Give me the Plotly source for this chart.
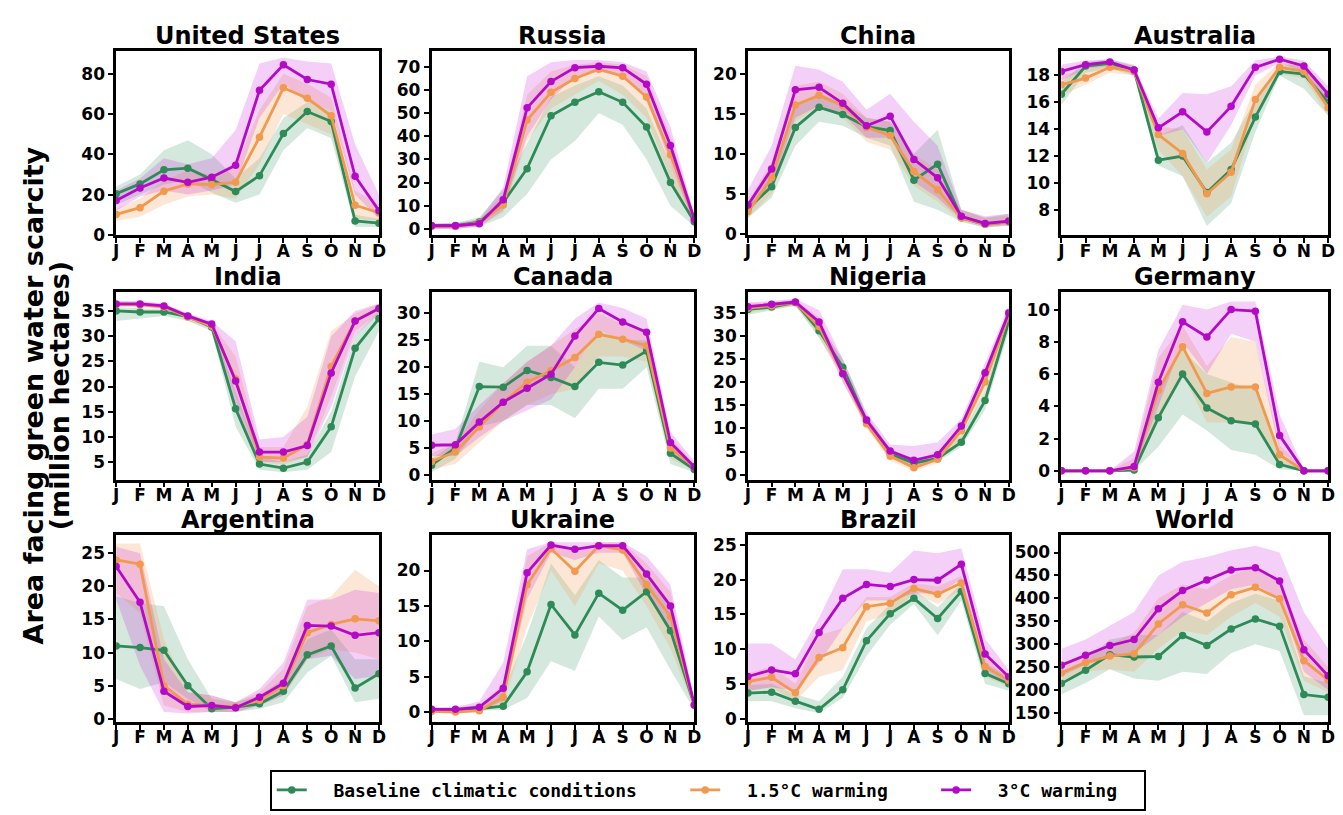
import plotly.graph_objects as go

MONTHS = ["J", "F", "M", "A", "M", "J", "J", "A", "S", "O", "N", "D"]
SERIES_NAMES = ["Baseline climatic conditions", "1.5°C warming", "3°C warming"]

# ---------------- United States ----------------
us_base = [20.4, 25.3, 32.3, 33.1, 27.5, 21.5, 29.4, 50.3, 61.2, 56.3, 6.9, 5.8]
us_base_lo = [15, 20, 25, 27, 21, 16, 20, 42, 53, 48, 4, 4]
us_base_hi = [24, 30, 42, 47, 40, 28, 38, 58, 66, 62, 10, 8]
us_w15 = [10.1, 13.5, 21.7, 25.3, 25.0, 26.1, 48.5, 73.0, 67.8, 59.1, 14.7, 11]
us_w15_lo = [7, 9, 15, 19, 20, 18, 35, 60, 55, 50, 8, 7]
us_w15_hi = [13, 18, 27, 32, 30, 34, 62, 80, 75, 68, 22, 15]
us_w3 = [17.1, 23.3, 28.2, 26.1, 28.6, 34.6, 71.8, 84.4, 77.1, 74.8, 29.1, 12]
us_w3_lo = [12, 19, 22, 20, 22, 25, 58, 75, 66, 62, 20, 8]
us_w3_hi = [22, 28, 38, 35, 38, 52, 85, 88, 86, 85, 45, 20]

# ---------------- Russia ----------------
ru_base = [1.4, 1.4, 2.9, 11.4, 26.0, 48.9, 54.7, 59.3, 54.7, 44, 20, 3]
ru_base_lo = [0, 0, 1, 5, 15, 30, 38, 50, 45, 30, 10, 1]
ru_base_hi = [2, 2.5, 5, 17, 37, 57, 62, 66, 62, 52, 28, 5]
ru_w15 = [1, 1, 2.5, 10.3, 47, 59, 65, 69, 66, 57, 32, 4]
ru_w15_lo = [0, 0, 1, 7, 38, 52, 58, 64, 58, 48, 22, 2]
ru_w15_hi = [2, 2, 4, 15, 58, 68, 71, 72, 71, 66, 40, 6]
ru_w3 = [1.3, 1.3, 2.2, 12.5, 52.3, 63.7, 69.7, 70.3, 69.6, 62.5, 36, 4]
ru_w3_lo = [0, 0, 1, 8, 40, 56, 66, 68, 66, 56, 28, 2]
ru_w3_hi = [2.5, 2.5, 4, 18, 66, 72, 73, 73, 72, 68, 44, 6]

# ---------------- China ----------------
cn_base = [3.2, 5.9, 13.3, 15.8, 14.9, 13.4, 12.9, 6.7, 8.7, 2.0, 1.2, 1.5]
cn_base_lo = [2, 4.5, 11, 14, 13.5, 12, 11, 4, 3, 1.5, 0.8, 1]
cn_base_hi = [4, 8, 16, 17.5, 16.5, 14.5, 14, 10, 13, 3, 2, 2.5]
cn_w15 = [2.8, 7, 16.1, 17.3, 16, 13.3, 12.3, 7.8, 5.5, 2, 1.2, 1.5]
cn_w15_lo = [2, 5, 14, 16, 14.5, 11.5, 10.5, 6, 4, 1.5, 0.8, 1]
cn_w15_hi = [4, 9, 18.5, 19, 17.5, 14.5, 14, 10, 8, 3, 2, 2.3]
cn_w3 = [3.6, 8.1, 18, 18.3, 16.3, 13.5, 14.7, 9.3, 7, 2.2, 1.3, 1.6]
cn_w3_lo = [2.5, 6, 14.5, 16, 15, 12, 12, 6.5, 4.5, 1.8, 0.9, 1.1]
cn_w3_hi = [5.5, 11, 21, 20.5, 19, 15.5, 17.5, 14, 11, 3, 2.2, 2.5]

# ---------------- Australia ----------------
au_base = [16.6, 18.7, 18.9, 18.4, 11.7, 12.0, 9.3, 11.0, 14.9, 18.3, 18.1, 16.0]
au_base_lo = [15.8, 18.2, 18.5, 18.0, 11.3, 10.5, 6.8, 8.5, 13.8, 18.0, 17.0, 15.0]
au_base_hi = [17.5, 19.0, 19.2, 18.8, 13.5, 14.3, 11.5, 13.0, 16.2, 18.8, 18.8, 16.8]
au_w15 = [17.3, 17.8, 18.6, 18.3, 13.6, 12.2, 9.2, 10.8, 16.2, 18.6, 18.3, 15.6]
au_w15_lo = [16.5, 17.3, 18.2, 18.0, 12.5, 10.5, 7.5, 9.0, 15.0, 18.1, 17.8, 15.0]
au_w15_hi = [18.0, 18.5, 19.0, 18.7, 14.2, 14.0, 11.0, 12.5, 17.3, 19.0, 18.8, 16.3]
au_w3 = [18.3, 18.8, 19.0, 18.4, 14.1, 15.3, 13.8, 15.7, 18.6, 19.2, 18.7, 16.6]
au_w3_lo = [17.6, 18.5, 18.7, 18.1, 13.5, 14.0, 11.5, 14.3, 18.0, 18.9, 18.3, 15.8]
au_w3_hi = [18.8, 19.1, 19.2, 18.7, 14.8, 16.7, 16.6, 17.2, 19.1, 19.4, 19.1, 17.2]

# ---------------- India ----------------
in_base = [35.0, 34.8, 34.8, 33.9, 31.8, 15.6, 4.6, 3.8, 5.0, 12.0, 27.6, 33.5]
in_base_lo = [33, 33.5, 34, 33, 31, 12, 3.5, 3, 3.5, 7, 22, 31]
in_base_hi = [35.8, 35.5, 35.3, 34.5, 32.5, 19, 6, 5, 6.5, 15, 30, 35]
in_w15 = [36.3, 36.2, 35.8, 33.8, 32.0, 21.5, 6.0, 5.8, 8.5, 24, 33, 35.5]
in_w15_lo = [35.8, 35.8, 35.3, 33, 31.5, 18, 5, 4.5, 6, 18, 31, 34.5]
in_w15_hi = [37, 36.8, 36.3, 34.5, 32.5, 26, 8, 8, 16, 31, 34.5, 36.5]
in_w3 = [36.4, 36.4, 36.0, 34.0, 32.4, 21.1, 7.0, 7.0, 8.3, 22.7, 33.0, 35.5]
in_w3_lo = [36, 36, 35.5, 33.5, 31.5, 16, 5, 5, 6, 16, 30, 34.5]
in_w3_hi = [37, 37, 36.5, 34.5, 33, 29, 9.5, 10, 14, 30, 35, 36.5]

# ---------------- Canada ----------------
ca_base = [1.8, 5.0, 16.4, 16.3, 19.4, 18.1, 16.4, 20.9, 20.4, 23, 4, 1]
ca_base_lo = [0.5, 3, 9, 10, 13, 13, 10.5, 16, 16, 20, 2, 0.5]
ca_base_hi = [3, 6, 21, 20, 24, 24, 20, 27, 25, 25, 5, 1.5]
ca_w15 = [2.5, 4.3, 8.9, 13.5, 17.2, 19.4, 21.8, 26.1, 25.2, 24, 5, 1.5]
ca_w15_lo = [1, 2, 6, 10, 13, 15, 16, 22, 22, 21, 3, 0.8]
ca_w15_hi = [4, 6, 12, 17, 21, 24, 27, 30, 28, 27, 7, 2]
ca_w3 = [5.5, 5.6, 9.8, 13.5, 16.1, 18.7, 25.8, 30.9, 28.4, 26.5, 6, 1.5]
ca_w3_lo = [3.5, 3.5, 7, 10, 12, 14, 20, 27, 25, 23, 4, 0.8]
ca_w3_hi = [7.5, 8.5, 13, 17, 21, 24, 29, 32, 31, 29, 8, 2.5]

# ---------------- Nigeria ----------------
ng_base = [35.7, 36.2, 37.2, 31.1, 23.2, 11.6, 4.5, 2.5, 3.5, 7.0, 16, 33]
ng_base_lo = [34.5, 35.5, 36.5, 29.5, 21.5, 10.5, 3.5, 1.8, 2.8, 6, 14, 31]
ng_base_hi = [36.5, 37, 37.8, 32.5, 25, 13, 5.5, 3.5, 4.5, 8.5, 18, 35]
ng_w15 = [36, 36.5, 37.2, 32, 22, 11, 4, 1.5, 3.3, 9.5, 20, 34.5]
ng_w15_lo = [35, 35.8, 36.5, 30, 20, 10, 3, 0.8, 2.5, 8, 18, 33]
ng_w15_hi = [37, 37.3, 37.8, 34, 24, 12.5, 5, 2.5, 4.5, 11, 22, 36]
ng_w3 = [36.3, 36.8, 37.3, 33, 21.8, 11.8, 5.1, 3.1, 4.3, 10.5, 22, 35]
ng_w3_lo = [35.5, 36, 36.7, 31.5, 20, 10.5, 4, 2, 3.3, 9, 20, 33.5]
ng_w3_hi = [37.2, 37.5, 38, 35.5, 25, 13.5, 6.5, 6.2, 7, 12, 24, 36.5]

# ---------------- Germany ----------------
de_base = [0, 0, 0, 0.05, 3.3, 6.0, 3.9, 3.1, 2.9, 0.4, 0, 0]
de_base_lo = [0, 0, 0, 0, 1.5, 3.5, 2.5, 1.3, 1.0, 0.1, 0, 0]
de_base_hi = [0, 0, 0, 0.3, 5, 7.5, 6, 5.5, 5, 1, 0.05, 0]
de_w15 = [0, 0, 0, 0.2, 5.0, 7.7, 4.8, 5.2, 5.2, 1.0, 0, 0]
de_w15_lo = [0, 0, 0, 0, 3, 6, 3, 3, 3, 0.3, 0, 0]
de_w15_hi = [0, 0, 0, 0.8, 7, 9, 6.5, 8.3, 8, 1.6, 0.05, 0]
de_w3 = [0, 0, 0, 0.27, 5.5, 9.24, 8.3, 10.0, 9.9, 2.2, 0, 0]
de_w3_lo = [0, 0, 0, 0, 4, 8, 6, 8.5, 8, 1.2, 0, 0]
de_w3_hi = [0, 0, 0, 1.2, 7.5, 10.3, 10, 10.5, 10.5, 3.5, 0.1, 0]

# ---------------- Argentina ----------------
ar_base = [11.0, 10.75, 10.35, 5.0, 1.5, 1.75, 2.25, 4.15, 9.65, 11.0, 4.65, 6.8]
ar_base_lo = [6, 4.5, 5.5, 3, 1, 1, 1.5, 2.5, 7, 9.5, 2.5, 3]
ar_base_hi = [18.5, 17.5, 17, 9, 3, 2.5, 3.5, 6, 12, 13.5, 9, 9]
ar_w15 = [24, 23.35, 5, 2.2, 2, 1.8, 2.8, 5, 13, 14.25, 15.1, 14.8]
ar_w15_lo = [19, 16, 2, 1, 1, 1, 2, 3.5, 9, 10.5, 10, 9]
ar_w15_hi = [26.5, 26.5, 12, 4, 3.5, 2.5, 4, 7.5, 17, 18.5, 22.5, 20]
ar_w3 = [23, 17.6, 4.15, 1.85, 2, 1.65, 3.25, 5.35, 14.1, 14, 12.6, 13]
ar_w3_lo = [18, 8, 1, 0.8, 1, 1, 2, 3.5, 9, 9.5, 6, 6.5]
ar_w3_hi = [26, 25, 9, 4, 3.5, 2.5, 4.5, 8.5, 18, 18, 19.5, 19]

# ---------------- Ukraine ----------------
ua_base = [0.3, 0.3, 0.5, 0.84, 5.7, 15.2, 10.9, 16.8, 14.4, 17, 11.5, 1]
ua_base_lo = [0, 0, 0.2, 0.3, 2, 7.2, 5.8, 13.5, 10.2, 12, 6, 0.3]
ua_base_hi = [0.6, 0.6, 1, 3, 11, 21, 16.5, 21.5, 19, 19, 15, 1.5]
ua_w15 = [0.1, 0, 0.2, 2.1, 18, 23.1, 19.9, 23.5, 22.9, 18, 13.5, 1]
ua_w15_lo = [0, 0, 0, 1, 12, 20, 15, 21, 20, 15, 9, 0.5]
ua_w15_hi = [0.3, 0.3, 0.6, 4, 22, 24, 22.5, 24, 24, 21, 17, 1.5]
ua_w3 = [0.4, 0.4, 0.7, 3.36, 19.7, 23.6, 23.0, 23.5, 23.5, 19.5, 15, 1]
ua_w3_lo = [0.1, 0.1, 0.3, 1.5, 16, 22.5, 21.5, 22.5, 22.5, 16.5, 12, 0.5]
ua_w3_hi = [0.7, 0.7, 1.5, 7, 23, 24, 24, 24, 24, 22, 18, 1.8]

# ---------------- Brazil ----------------
br_base = [3.67, 3.8, 2.5, 1.33, 4.14, 11.2, 15.1, 17.3, 14.4, 18.3, 6.5, 5]
br_base_lo = [2.5, 2.5, 1.5, 0.8, 3, 9, 13.5, 16.5, 12, 17, 5, 4]
br_base_hi = [4.8, 5, 3.5, 2.5, 6, 13, 16.5, 18.5, 16, 19.5, 8, 6]
br_w15 = [5.33, 5.95, 3.7, 8.8, 10.2, 16.1, 16.6, 18.7, 17.9, 19.5, 7.5, 5.5]
br_w15_lo = [4, 4.5, 2.5, 6, 7, 14, 15, 18, 16.5, 18.5, 6, 4.5]
br_w15_hi = [6.5, 7.5, 5, 12, 13, 17.5, 17.5, 19.5, 19, 20.5, 9, 6.5]
br_w3 = [6.05, 7, 6.43, 12.4, 17.3, 19.3, 19, 20, 19.9, 22.2, 9.3, 6]
br_w3_lo = [4, 4.5, 4, 8, 13, 17, 17, 18, 18, 20, 7, 5]
br_w3_hi = [10.8, 10.8, 8.5, 14.5, 21.5, 21.5, 21, 24.2, 23.8, 24.5, 11.5, 7]

# ---------------- World ----------------
wd_base = [214, 243, 277, 272, 273, 319, 297, 333, 355, 339, 190, 184]
wd_base_lo = [190, 215, 245, 225, 220, 240, 235, 280, 300, 285, 145, 145]
wd_base_hi = [240, 265, 310, 320, 320, 370, 350, 390, 410, 395, 230, 215]
wd_w15 = [237, 260, 274, 279, 344, 386, 368, 408, 424, 399, 264, 222]
wd_w15_lo = [220, 240, 245, 240, 290, 330, 320, 360, 390, 360, 220, 195]
wd_w15_hi = [255, 280, 300, 325, 400, 430, 420, 450, 470, 440, 310, 250]
wd_w3 = [254, 276, 297, 310, 377, 417, 440, 462, 467, 438, 288, 231]
wd_w3_lo = [230, 255, 270, 280, 320, 360, 390, 420, 430, 400, 240, 200]
wd_w3_hi = [290, 310, 340, 370, 450, 480, 490, 505, 515, 500, 370, 290]

PANEL_TITLES = ["United States", "Russia", "China", "Australia",
                "India", "Canada", "Nigeria", "Germany",
                "Argentina", "Ukraine", "Brazil", "World"]
Y_RANGES = [[-0.3, 91.5], [-2.9, 77.1], [-0.2, 22.9], [6.1, 19.85],
            [1.5, 38.8], [-0.9, 34.0], [-1.1, 39.5], [-0.55, 11.1],
            [-0.5, 27.75], [-1.4, 25.0], [-0.5, 26.4], [130, 538]]
Y_TICKS = [[0, 20, 40, 60, 80], [0, 10, 20, 30, 40, 50, 60, 70], [0, 5, 10, 15, 20],
           [8, 10, 12, 14, 16, 18],
           [5, 10, 15, 20, 25, 30, 35], [0, 5, 10, 15, 20, 25, 30],
           [0, 5, 10, 15, 20, 25, 30, 35], [0, 2, 4, 6, 8, 10],
           [0, 5, 10, 15, 20, 25], [0, 5, 10, 15, 20], [0, 5, 10, 15, 20, 25],
           [150, 200, 250, 300, 350, 400, 450, 500]]

PANEL_DATA = [
    (us_base, us_base_lo, us_base_hi, us_w15, us_w15_lo, us_w15_hi, us_w3, us_w3_lo, us_w3_hi),
    (ru_base, ru_base_lo, ru_base_hi, ru_w15, ru_w15_lo, ru_w15_hi, ru_w3, ru_w3_lo, ru_w3_hi),
    (cn_base, cn_base_lo, cn_base_hi, cn_w15, cn_w15_lo, cn_w15_hi, cn_w3, cn_w3_lo, cn_w3_hi),
    (au_base, au_base_lo, au_base_hi, au_w15, au_w15_lo, au_w15_hi, au_w3, au_w3_lo, au_w3_hi),
    (in_base, in_base_lo, in_base_hi, in_w15, in_w15_lo, in_w15_hi, in_w3, in_w3_lo, in_w3_hi),
    (ca_base, ca_base_lo, ca_base_hi, ca_w15, ca_w15_lo, ca_w15_hi, ca_w3, ca_w3_lo, ca_w3_hi),
    (ng_base, ng_base_lo, ng_base_hi, ng_w15, ng_w15_lo, ng_w15_hi, ng_w3, ng_w3_lo, ng_w3_hi),
    (de_base, de_base_lo, de_base_hi, de_w15, de_w15_lo, de_w15_hi, de_w3, de_w3_lo, de_w3_hi),
    (ar_base, ar_base_lo, ar_base_hi, ar_w15, ar_w15_lo, ar_w15_hi, ar_w3, ar_w3_lo, ar_w3_hi),
    (ua_base, ua_base_lo, ua_base_hi, ua_w15, ua_w15_lo, ua_w15_hi, ua_w3, ua_w3_lo, ua_w3_hi),
    (br_base, br_base_lo, br_base_hi, br_w15, br_w15_lo, br_w15_hi, br_w3, br_w3_lo, br_w3_hi),
    (wd_base, wd_base_lo, wd_base_hi, wd_w15, wd_w15_lo, wd_w15_hi, wd_w3, wd_w3_lo, wd_w3_hi),
]

# ---------------- styling / layout ----------------
W, H = 1343, 815
LINE_COLORS = ["#2e8b57", "#f0994f", "#b40ac8"]
BAND_COLORS = ["rgba(46,139,87,0.20)", "rgba(244,160,90,0.25)", "rgba(200,20,220,0.20)"]
COL_PX = [(105, 370), (423, 688), (742, 1005), (1058, 1327)]
ROW_PX = [(43, 230), (287, 477), (533, 722)]
NB = "\u00a0"
LEGEND_LABELS = [NB * 2 + SERIES_NAMES[0] + NB * 4,
                 NB * 2 + SERIES_NAMES[1] + NB * 4,
                 NB * 2 + SERIES_NAMES[2] + NB * 2]

xs = list(range(12))
fig = go.Figure()
layout = dict(width=W, height=H, margin=dict(l=0, r=0, t=0, b=0),
              plot_bgcolor="white", paper_bgcolor="white", annotations=[])

axis_font = dict(family="DejaVu Sans", size=17, color="black", weight="bold")

for i, title in enumerate(PANEL_TITLES):
    r, c = divmod(i, 4)
    k = i + 1
    xname = "x" if k == 1 else f"x{k}"
    yname = "y" if k == 1 else f"y{k}"
    xkey = "xaxis" if k == 1 else f"xaxis{k}"
    ykey = "yaxis" if k == 1 else f"yaxis{k}"
    x0, x1 = COL_PX[c]
    y0, y1 = ROW_PX[r]
    common = dict(showline=True, mirror=True, linecolor="black", linewidth=2.5,
                  ticks="outside", ticklen=5, tickwidth=1.5, tickcolor="black",
                  showgrid=False, zeroline=False, tickfont=axis_font)
    layout[xkey] = dict(domain=[x0 / W, x1 / W], anchor=yname, range=[0, 11],
                        tickmode="array", tickvals=xs, ticktext=MONTHS,
                        ticklabelstandoff=-7, **common)
    layout[ykey] = dict(domain=[1 - y1 / H, 1 - y0 / H], anchor=xname,
                        range=Y_RANGES[i], tickmode="array", tickvals=Y_TICKS[i], **common)
    layout["annotations"].append(dict(
        text=f"<b>{title}</b>", x=(x0 + x1) / 2 / W, y=1 - (y0 + 1) / H,
        xref="paper", yref="paper", xanchor="center", yanchor="bottom",
        showarrow=False, font=dict(family="DejaVu Sans", size=24, color="black")))

    d = PANEL_DATA[i]
    for s in range(3):
        mean, lo, hi = d[3 * s], d[3 * s + 1], d[3 * s + 2]
        fig.add_trace(go.Scatter(
            x=xs + xs[::-1], y=list(hi) + list(lo)[::-1], fill="toself",
            fillcolor=BAND_COLORS[s], line=dict(width=0), mode="lines",
            hoverinfo="skip", showlegend=False, xaxis=xname, yaxis=yname))
    for s in range(3):
        mean = d[3 * s]
        fig.add_trace(go.Scatter(
            x=xs, y=mean, mode="lines+markers", name=LEGEND_LABELS[s],
            line=dict(color=LINE_COLORS[s], width=2.8),
            marker=dict(color=LINE_COLORS[s], size=7.5),
            showlegend=(i == 0), legendrank=s + 1, xaxis=xname, yaxis=yname))

layout["annotations"].append(dict(
    text="<b>Area facing green water scarcity</b>",
    x=22 / W, y=1 - 392 / H, xref="paper", yref="paper", xanchor="center",
    yanchor="middle", textangle=-90, showarrow=False,
    font=dict(family="DejaVu Sans", size=27, color="black")))
layout["annotations"].append(dict(
    text="<b>(million hectares)</b>",
    x=48 / W, y=1 - 392 / H, xref="paper", yref="paper", xanchor="center",
    yanchor="middle", textangle=-90, showarrow=False,
    font=dict(family="DejaVu Sans", size=27, color="black")))

layout["legend"] = dict(orientation="h", x=(248 + 1155) / 2 / W, xanchor="center",
                        y=1 - 791 / H, yanchor="middle", bordercolor="black",
                        borderwidth=2, bgcolor="white", traceorder="normal",
                        font=dict(family="DejaVu Sans Mono", size=18, color="black",
                                  weight="bold"))

fig.update_layout(**layout)
fig.write_html("out.html")
